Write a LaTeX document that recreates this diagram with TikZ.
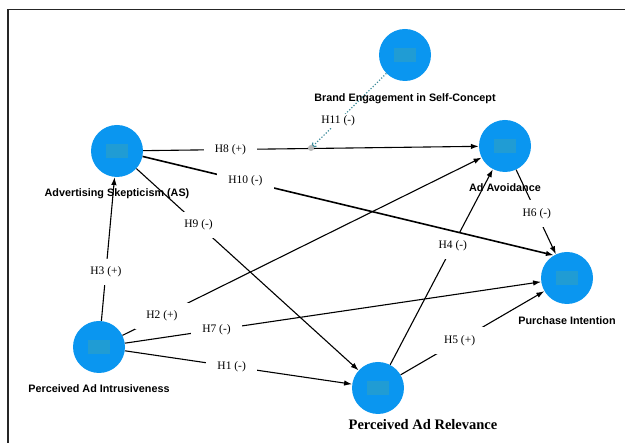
\documentclass[tikz,border=0pt]{standalone}
\usepackage{fontspec}
\setmainfont{Liberation Serif}
\setsansfont{Liberation Sans}
\usetikzlibrary{arrows.meta,positioning}
\definecolor{nodeblue}{RGB}{10,150,240}
\definecolor{coreblue}{RGB}{32,156,212}
\definecolor{modteal}{RGB}{62,140,155}

\begin{document}
\begin{tikzpicture}[
    x=1pt, y=-1pt,
    construct/.style={circle, fill=nodeblue, minimum size=52pt, inner sep=0pt,
        path picture={\fill[coreblue] ([xshift=-11pt,yshift=-7pt]path picture bounding box.center)
            rectangle ([xshift=11pt,yshift=7pt]path picture bounding box.center);}},
    cname/.style={font=\sffamily\bfseries\fontsize{10.8}{12}\selectfont, inner sep=0pt},
    hyp/.style={font=\fontsize{11.5}{13}\selectfont, text=black, fill=white, inner xsep=11pt, inner ysep=8pt},
    hlink/.style={-{Latex[length=8pt,width=5.5pt]}, line width=1.1pt, black},
    modlink/.style={-{Straight Barb[length=4pt,width=5pt]}, line width=1.2pt, modteal,
        dash pattern=on 1.2pt off 1.8pt}
]
\useasboundingbox (0,0) rectangle (625,443);
\draw[line width=1.3pt, black!85] (8,450) -- (8,9.5) -- (630,9.5);

% constructs
\node[construct] (besc) at (405,55) {};
\node[construct] (as) at (117,151) {};
\node[construct] (aa) at (505,146) {};
\node[construct] (pai) at (99,347) {};
\node[construct] (par) at (378,388) {};
\node[construct] (pi) at (567,278) {};

% hypotheses
\draw[hlink] (pai) -- node[hyp, pos=0.47] (h1) {H1 (-)} (par);
\draw[hlink] (pai) -- node[hyp, pos=0.11] (h2) {H2 (+)} (aa);
\draw[hlink] (pai) -- node[hyp, pos=0.34] (h3) {H3 (+)} (as);
\draw[hlink] (par) -- node[hyp, pos=0.61] (h4) {H4 (-)} (aa);
\draw[hlink] (par) -- node[hyp, pos=0.41] (h5) {H5 (+)} (pi);
\draw[hlink] (aa) -- node[hyp, pos=0.52] (h6) {H6 (-)} (pi);
\draw[hlink] (pai) -- node[hyp, pos=0.22] (h7) {H7 (-)} (pi);
\draw[hlink] (as) -- node[hyp, pos=0.26] (h8) {H8 (+)} (aa);
\draw[hlink] (as) -- node[hyp, pos=0.28] (h9) {H9 (-)} (par);
\draw[hlink, line width=1.6pt] (as.-12) -- node[hyp, pos=0.25] (h10) {H10 (-)} (pi.120);

% moderation
\coordinate (mod) at (311,148);
\draw[modlink] (besc) -- node[hyp, pos=0.64, inner sep=2pt] (h11) {H11 (-)} (mod);
\fill[gray!55] (mod) circle (3pt);

% construct names
\node[cname, below=12pt of besc] (besc-t) {Brand Engagement in Self-Concept};
\node[cname, below=11pt of as] (as-t) {Advertising Skepticism (AS)};
\node[cname, below=11pt of aa] (aa-t) {Ad Avoidance};
\node[cname, below=11pt of pai] (pai-t) {Perceived Ad Intrusiveness};
\node[cname, below=12pt of pi] (pi-t) {Purchase Intention};
\node[below=5pt of par, inner sep=0pt, xshift=45pt, font=\bfseries\fontsize{14.5}{16}\selectfont] (par-t) {Perceived Ad Relevance};
\end{tikzpicture}
\end{document}
